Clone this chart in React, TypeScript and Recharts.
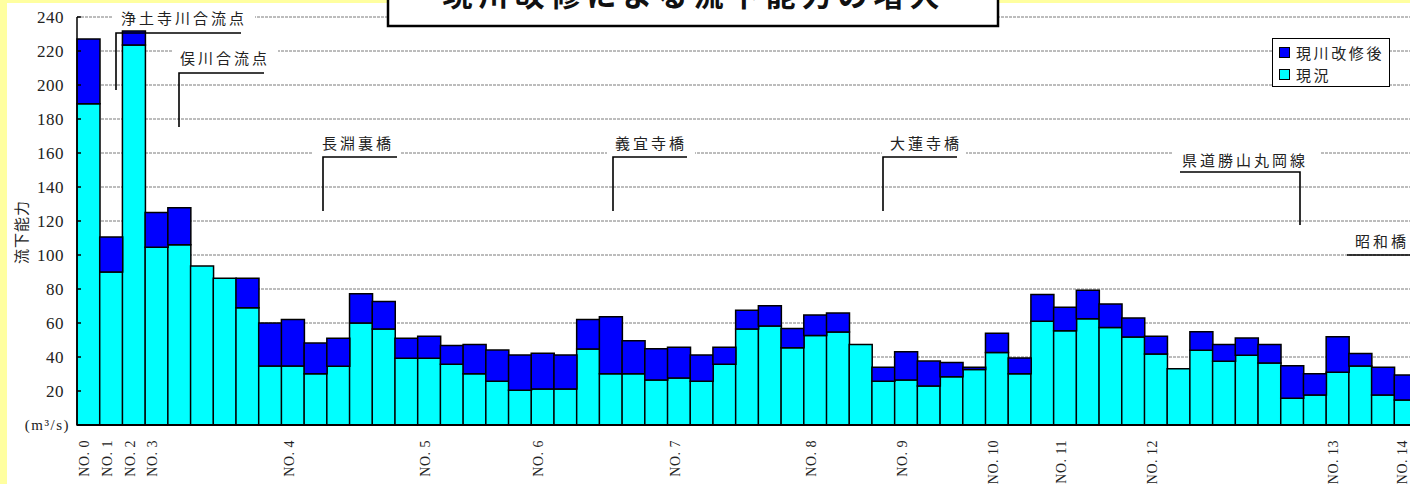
import { BarChart, Bar, XAxis, YAxis, CartesianGrid } from "recharts";

// 測点ラベル（空文字は表示しない）
const stations = [
  "NO. 0", "NO. 1", "NO. 2", "NO. 3", "", "", "", "", "", "NO. 4",
  "", "", "", "", "", "NO. 5", "", "", "", "", "NO. 6",
  "", "", "", "", "", "NO. 7", "", "", "", "", "",
  "NO. 8", "", "", "", "NO. 9", "", "", "", "NO. 10", "",
  "", "NO. 11", "", "", "", "NO. 12", "", "", "", "", "",
  "", "", "NO. 13", "", "", "NO. 14",
];

// 現況 (m3/s)
const genkyo = [
  189, 90, 223.5, 104.5, 106, 93.5, 86.3, 69, 34.7, 34.7,
  30.2, 34.5, 60, 56.5, 39.2, 39.2, 35.7, 30.2, 25.7, 20.4,
  21.2, 21.2, 44.7, 30.2, 30.2, 26.5, 27.6, 25.7, 35.7, 56.5,
  58.2, 45.5, 52.7, 54.7, 47.4, 25.7, 26.5, 22.9, 28.4, 32.7,
  42.7, 30.2, 61, 55.5, 62.5, 57.3, 51.8, 41.8, 33.1, 43.9,
  37.5, 41, 36.5, 15.7, 17.6, 31, 34.7, 17.6, 14.7,
];

// 現川改修後 (m3/s)
const kaishugo = [
  227, 110.6, 231.8, 125, 127.8, 93.5, 86.3, 86.3, 60, 62,
  48.2, 51, 77.2, 72.7, 51, 52.2, 46.7, 47.4, 44.1, 41.2,
  42.2, 41.2, 62, 63.7, 49.6, 44.9, 45.7, 41.2, 45.7, 67.5,
  70.2, 56.7, 64.7, 65.9, 47.4, 33.9, 43.1, 37.6, 36.7, 33.9,
  53.9, 39.4, 76.7, 69.2, 79.2, 71.2, 62.9, 52.2, 33.1, 54.9,
  47.4, 51.2, 47.4, 34.9, 30.2, 51.9, 42, 33.9, 29.4,
];

const yTicks = [0, 20, 40, 60, 80, 100, 120, 140, 160, 180, 200, 220, 240];

const legendItems = [
  { name: "現川改修後", color: "#0000FF" },
  { name: "現況", color: "#00FFFF" },
];

const notes = [
  { text: "浄土寺川合流点", x: 121, y: 17, box: [112, 9, 143, 16], path: "M116,90 V33 H241" },
  { text: "俣川合流点", x: 180, y: 57, box: [173, 48, 105, 18], path: "M179,127 V73 H264" },
  { text: "長淵裏橋", x: 322, y: 142, box: [313, 133, 87, 23], path: "M323,211 V157 H397" },
  { text: "義宜寺橋", x: 615, y: 142, box: [607, 133, 88, 23], path: "M613,211 V157 H687" },
  { text: "大蓮寺橋", x: 890, y: 142, box: [882, 133, 84, 23], path: "M883,211 V157 H957" },
  { text: "県道勝山丸岡線", x: 1182, y: 159, box: [1173, 149, 147, 16], path: "M1180,172 H1300 V225" },
  { text: "昭和橋", x: 1355, y: 240, box: null, path: "M1347,255 H1412" },
];

const data = genkyo.map((v, i) => ({
  no: i,
  genkyo: v,
  zoubun: Math.max(0, +(kaishugo[i] - v).toFixed(1)),
}));

const jp = "'Noto Sans CJK JP', 'Noto Sans', sans-serif";
const serif = "'Liberation Serif', 'DejaVu Serif', serif";

function YTick({ x, y, payload }: any) {
  if (payload.value === 0) {
    return (
      <text x={x + 6} y={y} dy="0.35em" textAnchor="end" fontFamily={serif} fontSize={15} letterSpacing={1.5} fill="#222">
        (m³/s)
      </text>
    );
  }
  return (
    <g>
      <line x1={x + 13} x2={x + 17} y1={y} y2={y} stroke="#000" strokeWidth={1.5} />
      <text x={x} y={y} dy="0.35em" textAnchor="end" fontFamily={serif} fontSize={17} letterSpacing={0.5} fill="#222">
        {payload.value}
      </text>
    </g>
  );
}

function XTick({ x, y, payload }: any) {
  const label = stations[payload.value];
  if (!label) return <g />;
  return (
    <text
      transform={`translate(${x - 4},${y + 15}) rotate(-90)`}
      textAnchor="end"
      dy="0.35em"
      fontFamily={serif}
      fontSize={14}
      letterSpacing={0.5}
      fill="#222"
    >
      {label}
    </text>
  );
}

export default function App() {
  return (
    <div
      style={{
        position: "fixed",
        left: 0,
        top: 0,
        width: 1410,
        height: 484,
        overflow: "hidden",
        background: "#FFFFA0",
      }}
    >
      <div style={{ position: "absolute", left: 7, top: 3, right: 0, bottom: 0, background: "#fff" }} />

      <div style={{ position: "absolute", left: 0, top: 0 }}>
        <BarChart
          width={1430}
          height={484}
          data={data}
          margin={{ top: 17, right: 13, bottom: 0, left: 7 }}
          barCategoryGap={0}
        >
          <CartesianGrid vertical={false} stroke="#7a7a7a" strokeDasharray="3 1" />
          <XAxis
            dataKey="no"
            interval={0}
            tick={<XTick />}
            tickLine={false}
            tickSize={0}
            tickMargin={0}
            height={59}
            axisLine={{ stroke: "#000", strokeWidth: 2 }}
          />
          <YAxis
            domain={[0, 240]}
            ticks={yTicks}
            interval={0}
            width={70}
            tick={<YTick />}
            tickLine={false}
            tickSize={0}
            tickMargin={13}
            axisLine={{ stroke: "#000", strokeWidth: 1.5 }}
          />
          <Bar dataKey="genkyo" name="現況" stackId="a" fill="#00FFFF" stroke="#000" strokeWidth={1.5} isAnimationActive={false} />
          <Bar dataKey="zoubun" name="現川改修後" stackId="a" fill="#0000FF" stroke="#000" strokeWidth={1.5} isAnimationActive={false} />
        </BarChart>
      </div>

      {/* 凡例 */}
      <div
        style={{
          position: "absolute",
          left: 1272,
          top: 38,
          width: 118,
          height: 49,
          boxSizing: "border-box",
          border: "1.5px solid #000",
          background: "#fff",
          padding: "2px 0 0 6px",
        }}
      >
        {legendItems.map((it) => (
          <div key={it.name} style={{ display: "flex", alignItems: "center", height: 22 }}>
            <span
              style={{
                width: 9,
                height: 9,
                background: it.color,
                border: "1px solid #000",
                marginRight: 6,
                flex: "none",
              }}
            />
            <span style={{ fontFamily: jp, fontSize: 15, letterSpacing: 2.6, color: "#222" }}>{it.name}</span>
          </div>
        ))}
      </div>

      <svg width={1410} height={484} style={{ position: "absolute", left: 0, top: 0, pointerEvents: "none" }}>
        {/* タイトル枠 */}
        <rect x={388} y={-10} width={610} height={36} fill="#fff" stroke="#000" strokeWidth={2.5} />
        <text x={694} y={6} textAnchor="middle" fontFamily={jp} fontSize={30} fontWeight={700} letterSpacing={6} fill="#111">
          現川改修による流下能力の増大
        </text>

        {/* 縦軸タイトル */}
        <text
          transform="translate(20,232) rotate(-90)"
          textAnchor="middle"
          dominantBaseline="central"
          fontFamily={jp}
          fontSize={15}
          letterSpacing={1}
          fill="#222"
        >
          流下能力
        </text>

        {/* 地点注記 */}
        {notes.map((n) => (
          <g key={n.text}>
            {n.box && <rect x={n.box[0]} y={n.box[1]} width={n.box[2]} height={n.box[3]} fill="#fff" />}
            <path d={n.path} fill="none" stroke="#000" strokeWidth={1.6} />
            <text x={n.x} y={n.y} dominantBaseline="central" fontFamily={jp} fontSize={15} letterSpacing={3} fill="#222">
              {n.text}
            </text>
          </g>
        ))}
      </svg>
    </div>
  );
}
